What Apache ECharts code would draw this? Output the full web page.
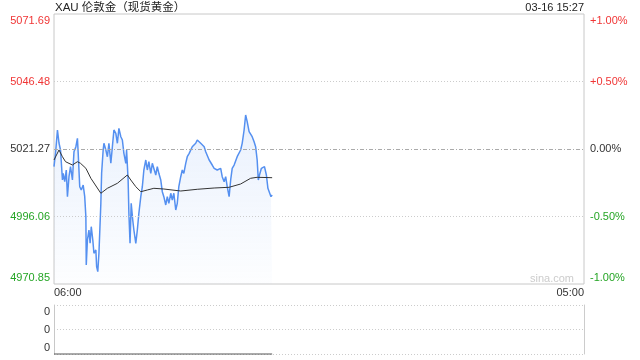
<!DOCTYPE html>
<html><head><meta charset="utf-8">
<script src="https://cdn.jsdelivr.net/npm/echarts@6/dist/echarts.min.js"></script>
<style>html,body{margin:0;padding:0;background:#fff}#c{width:640px;height:360px}</style>
</head><body><div id="c"></div>
<script>
const title = 'XAU 伦敦金（现货黄金）';
const stamp = '03-16 15:27';
const watermark = 'sina.com';
const prevClose = 5021.27;
const priceTicks = [4970.85, 4996.06, 5021.27, 5046.48, 5071.69];
const timeTicks = [0, 1380];
const timeLabels = ['06:00', '05:00'];
const volTicks = [0, 1, 2];
const volLabels = ['0', '0', '0'];
const volMinutes = [0, 568];
const volValues = [0, 0];

const minutes = [0,4,9,13,17,22,24,28,32,35,39,43,48,52,57,61,63,67,71,76,80,83,84,87,91,94,97,101,104,109,111,114,117,122,124,128,130,135,139,143,148,152,156,161,165,169,174,178,182,187,189,193,195,198,201,205,208,213,217,221,226,230,234,239,243,247,252,256,260,265,269,273,278,282,286,291,295,299,304,308,312,317,321,325,330,334,338,343,347,352,356,360,365,369,373,378,382,386,391,395,399,404,408,412,417,421,425,430,434,438,443,447,451,456,460,464,469,473,477,482,486,490,495,499,503,508,512,516,521,525,529,532,535,540,544,548,553,557,561,565,568];
const prices = [
5014.66,5019.78,5028.37,5023.51,5020.90,5009.69,5012.19,5009.06,5013.43,5003.46,
5010.92,5014.66,5009.69,5020.26,5022.13,5025.27,5019.66,5007.19,5005.96,5007.82,
5003.46,4995.98,4977.95,4987.28,4991.02,4986.05,4992.25,4987.28,4982.32,4983.55,
4977.31,4975.45,4982.32,5000.99,5012.19,5020.90,5023.40,5020.90,5018.39,5023.40,
5015.93,5022.13,5028.37,5027.13,5023.40,5029.00,5025.86,5024.63,5019.66,5015.93,
5020.90,5009.69,4997.26,4986.05,5000.99,4994.75,4991.02,4986.05,4991.02,4997.26,
5003.46,5007.19,5013.43,5017.16,5013.43,5016.53,5012.19,5015.93,5016.53,5011.56,
5014.66,5012.19,5009.69,5005.32,5003.46,5000.36,5003.46,5000.99,5004.73,5002.22,
5004.73,4998.49,5000.99,5007.19,5010.92,5013.43,5012.19,5015.93,5018.39,5019.66,
5020.26,5022.13,5021.53,5023.40,5024.63,5025.27,5023.40,5024.00,5022.13,5020.26,
5020.90,5017.16,5016.53,5015.29,5014.06,5014.66,5013.43,5012.79,5014.06,5010.92,
5009.06,5010.92,5007.19,5003.46,5009.69,5014.06,5015.29,5015.93,5018.39,5017.80,
5020.90,5023.40,5028.37,5033.97,5031.47,5027.73,5027.13,5025.86,5024.00,5022.13,
5017.16,5009.69,5011.56,5014.06,5013.43,5014.66,5011.56,5006.59,5007.19,5003.46,
5004.09];
const avgMinutes = [0,13,22,30,48,61,69,83,96,122,139,165,191,200,213,226,243,260,286,330,373,417,456,486,512,529,568];
const avgPrices = [5017.16,5020.90,5018.39,5016.53,5015.29,5016.53,5015.93,5014.06,5010.33,5004.73,5006.59,5008.46,5011.56,5009.69,5007.19,5005.32,5005.96,5006.59,5006.33,5005.58,5006.22,5006.70,5006.97,5008.20,5010.33,5010.70,5010.55];

const FONT = '"Liberation Sans", Arial, "Noto Sans CJK SC", sans-serif';
const RED = '#f03535', GREEN = '#25a525', DARK = '#333333';
const yMin = priceTicks[0], yMax = priceTicks[priceTicks.length - 1];
function lvlColor(v) { v = +v; if (Math.abs(v - prevClose) < 1e-6) return DARK; return v > prevClose ? RED : GREEN; }
function edge(v, s, lo, hi) { v = +v; if (Math.abs(v - hi) < 1e-6) return '{t|' + s + '}'; if (Math.abs(v - lo) < 1e-6) return '{b|' + s + '}'; return s; }
const edgeRich = { t: { padding: [13, 0, 0, 0] }, b: { padding: [0, 0, 12, 0] } };
function pct(v) { const p = (+v - prevClose) / prevClose * 100; const s = Math.abs(p).toFixed(2); if (s === '0.00') return '0.00%'; return (p > 0 ? '+' : '-') + s + '%'; }

const chart = echarts.init(document.getElementById('c'), null, { renderer: 'canvas' });
chart.setOption({
  animation: false,
  textStyle: { fontFamily: FONT },
  grid: [
    { left: 54, right: 56, top: 14, height: 270, show: true, borderColor: '#c8c8c8', borderWidth: 1, backgroundColor: 'transparent' },
    { left: 54, right: 56, top: 305, height: 49, show: false }
  ],
  graphic: [
    { type: 'text', left: 55, top: 2, style: { text: title, fontSize: 11.5, fontFamily: FONT, fill: '#222' } },
    { type: 'text', right: 56, top: 2, style: { text: stamp, fontSize: 11, fontFamily: FONT, fill: '#222' } },
    { type: 'text', right: 66, top: 273, style: { text: watermark, fontSize: 11, fontFamily: FONT, fill: '#cccccc' } }
  ],
  xAxis: [
    { type: 'value', gridIndex: 0, min: timeTicks[0], max: timeTicks[1],
      axisLine: { show: false }, axisTick: { show: false }, splitLine: { show: false },
      axisLabel: { customValues: timeTicks, margin: 3, fontSize: 11, color: DARK, fontFamily: FONT,
        alignMinLabel: 'left', alignMaxLabel: 'right',
        formatter: (v) => timeLabels[timeTicks.indexOf(+v)] } },
    { type: 'value', gridIndex: 1, min: timeTicks[0], max: timeTicks[1],
      axisLine: { show: false }, axisTick: { show: false }, splitLine: { show: false }, axisLabel: { show: false } }
  ],
  yAxis: [
    { type: 'value', gridIndex: 0, min: yMin, max: yMax, position: 'left',
      axisLine: { show: false }, axisTick: { show: false }, splitLine: { show: false },
      axisLabel: { customValues: priceTicks, margin: 4, fontSize: 11, fontFamily: FONT,
        color: (v) => lvlColor(v), formatter: (v) => edge(v, (+v).toFixed(2), yMin, yMax), rich: edgeRich } },
    { type: 'value', gridIndex: 0, min: yMin, max: yMax, position: 'right',
      axisLine: { show: false }, axisTick: { show: false }, splitLine: { show: false },
      axisLabel: { customValues: priceTicks, margin: 6, fontSize: 11, fontFamily: FONT,
        color: (v) => lvlColor(v), formatter: (v) => edge(v, pct(v), yMin, yMax), rich: edgeRich } },
    { type: 'value', gridIndex: 1, min: volTicks[0], max: volTicks[2], interval: 1, position: 'left',
      axisLine: { show: true, lineStyle: { color: '#c8c8c8' } }, axisTick: { show: false },
      splitLine: { show: true, lineStyle: { color: '#cccccc', type: [1, 2] } },
      axisLabel: { margin: 4, fontSize: 11, fontFamily: FONT, color: DARK,
        formatter: (v) => edge(v, volLabels[volTicks.indexOf(+v)], volTicks[0], volTicks[2]), rich: edgeRich } },
    { type: 'value', gridIndex: 1, min: volTicks[0], max: volTicks[2], interval: 1, position: 'right',
      axisLine: { show: true, lineStyle: { color: '#cccccc' } }, axisTick: { show: false },
      splitLine: { show: false }, axisLabel: { show: false } }
  ],
  series: [
    { type: 'line', xAxisIndex: 0, yAxisIndex: 0, showSymbol: false, symbol: 'none',
      data: minutes.map((t, i) => [t, prices[i]]),
      lineStyle: { color: '#5590f0', width: 1.5 },
      areaStyle: { origin: 'start', color: new echarts.graphic.LinearGradient(0, 0, 0, 1, [
        { offset: 0, color: 'rgba(85,144,240,0.18)' }, { offset: 1, color: 'rgba(85,144,240,0.02)' }]) },
      markLine: { silent: true, symbol: 'none', label: { show: false }, animation: false,
        data: [
          { yAxis: priceTicks[1], lineStyle: { color: '#cccccc', type: [1, 2], width: 1 } },
          { yAxis: priceTicks[3], lineStyle: { color: '#cccccc', type: [1, 2], width: 1 } },
          { yAxis: prevClose, lineStyle: { color: '#aaaaaa', type: [4, 2, 1, 2], width: 1 } }
        ] },
      z: 3 },
    { type: 'line', xAxisIndex: 0, yAxisIndex: 0, showSymbol: false, symbol: 'none',
      data: avgMinutes.map((t, i) => [t, avgPrices[i]]),
      lineStyle: { color: '#333333', width: 1 }, z: 4 },
    { type: 'line', xAxisIndex: 1, yAxisIndex: 2, showSymbol: false, symbol: 'none', clip: false,
      data: volMinutes.map((t, i) => [t, volValues[i]]),
      lineStyle: { color: '#555555', width: 1 }, z: 4 }
  ]
});
</script></body></html>
